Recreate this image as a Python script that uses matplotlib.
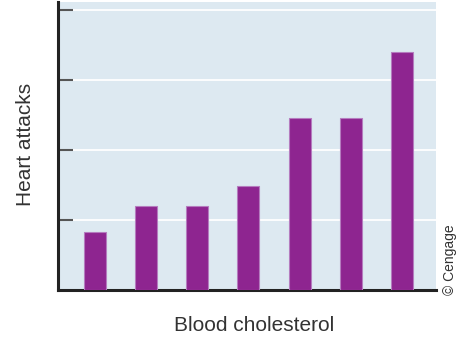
import numpy as np
import matplotlib
matplotlib.use("Agg")
import matplotlib.pyplot as plt

plt.rcParams['font.family'] = ['Liberation Sans', 'DejaVu Sans']

# bar heights in grid units (gridlines at 1, 2, 3, 4)
groups = ["1", "2", "3", "4", "5", "6", "7"]
heart_attacks = [0.83, 1.2, 1.2, 1.49, 2.46, 2.46, 3.4]
grid_levels = [1, 2, 3, 4]

fig = plt.figure(figsize=(4.58, 3.37), dpi=100)
ax = fig.add_axes([0.1266, 0.1395, 0.8254, 0.8545])
ax.set_facecolor('#dde9f1')

x = np.arange(len(groups))
ax.bar(x, heart_attacks, width=0.43, color='#8e2590', edgecolor='#b57cbf', linewidth=0.8, zorder=3)

ax.set_xlim(-0.725, 6.667)
ax.set_ylim(0, 4.11)
ax.set_yticks(grid_levels)
ax.set_yticklabels([])
ax.set_xticks([])
ax.yaxis.grid(True, color='white', linewidth=1.3, zorder=1)
ax.set_axisbelow(True)
ax.tick_params(axis='y', direction='in', length=11, width=1.5, color='#555555')

for s in ['top', 'right']:
    ax.spines[s].set_visible(False)
for s in ['left', 'bottom']:
    ax.spines[s].set_color('#222222')
    ax.spines[s].set_linewidth(2.2)

fig.text(0.055, 0.57, "Heart attacks", rotation=90, fontsize=15, color='#333333', ha='center', va='center')
fig.text(0.555, 0.035, "Blood cholesterol", fontsize=15, color='#333333', ha='center', va='center')

fig.text(0.983, 0.228, "© Cengage", rotation=90, fontsize=10, color='#333333', ha='center', va='center')

fig.savefig("out.png", dpi=100)
